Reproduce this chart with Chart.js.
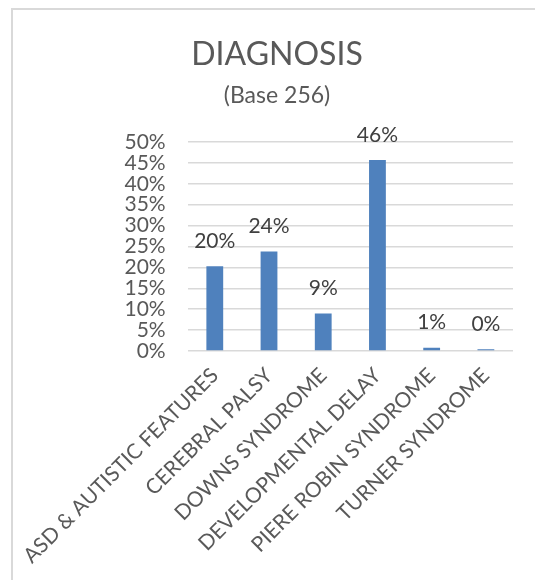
<!DOCTYPE html>
<html>
<head>
<meta charset="utf-8">
<script src="https://cdn.jsdelivr.net/npm/chart.js@4/dist/chart.umd.min.js"></script>
<style>
  html, body { margin: 0; padding: 0; background: #ffffff; overflow: hidden; }
  #frame { position: absolute; left: 11px; top: 8px; width: 600px; height: 640px;
           border-left: 2px solid #D9D9D9; border-top: 2px solid #D9D9D9; }
  #wrap { position: absolute; left: 0; top: 0; width: 535px; height: 580px; }
</style>
</head>
<body>
<div id="frame"></div>
<div id="wrap"><canvas id="c"></canvas></div>
<script>
const categories = [
  "ASD & AUTISTIC FEATURES",
  "CEREBRAL PALSY",
  "DOWNS SYNDROME",
  "DEVELOPMENTAL DELAY",
  "PIERE ROBIN SYNDROME",
  "TURNER SYNDROME"
];
const percentValues = [20.3, 23.8, 9.0, 45.7, 0.8, 0.4];
const chartTitle = "DIAGNOSIS";
const chartSubtitle = "(Base 256)";

const FONT = "Lato, 'Open Sans', sans-serif";

const dataLabels = {
  id: 'dataLabels',
  afterDatasetsDraw(chart) {
    const ctx = chart.ctx;
    const meta = chart.getDatasetMeta(0);
    ctx.save();
    ctx.font = "21px " + FONT;
    ctx.fillStyle = "#404040";
    ctx.textAlign = "center";
    ctx.textBaseline = "middle";
    meta.data.forEach((bar, i) => {
      const v = chart.data.datasets[0].data[i];
      ctx.fillText(Math.round(v) + "%", bar.x, bar.y - 25);
    });
    ctx.restore();
  }
};

new Chart(document.getElementById('c'), {
  type: 'bar',
  data: {
    labels: categories,
    datasets: [{
      data: percentValues,
      backgroundColor: '#4F81BD',
      borderColor: '#4F81BD',
      borderWidth: 0,
      categoryPercentage: 1.0,
      barPercentage: 0.31
    }]
  },
  options: {
    responsive: true,
    maintainAspectRatio: false,
    animation: false,
    layout: { padding: { top: 0, right: 22, bottom: 0, left: 41 } },
    plugins: {
      legend: { display: false },
      tooltip: { enabled: false },
      title: {
        display: true,
        text: chartTitle,
        color: '#595959',
        font: { family: FONT, size: 32, weight: 'normal', lineHeight: 1.2 },
        padding: { top: 35.5, bottom: 7.5 }
      },
      subtitle: {
        display: true,
        text: chartSubtitle,
        color: '#595959',
        font: { family: FONT, size: 23, weight: 'normal', lineHeight: 1.2 },
        padding: { top: 0, bottom: 33 }
      }
    },
    scales: {
      x: {
        grid: { display: false, drawTicks: false },
        border: { display: false },
        ticks: {
          autoSkip: false,
          minRotation: 45,
          maxRotation: 45,
          padding: 12,
          color: '#595959',
          font: { family: FONT, size: 21 }
        },
        afterFit(scale) { scale.height = 229; }
      },
      y: {
        min: 0,
        max: 50,
        grid: { color: '#D9D9D9', lineWidth: 1.5, drawTicks: false },
        border: { display: false },
        ticks: {
          stepSize: 5,
          autoSkip: false,
          padding: 22,
          color: '#595959',
          font: { family: FONT, size: 21 },
          callback: (v) => v + '%'
        },
        afterFit(scale) { scale.width = 142; }
      }
    }
  },
  plugins: [dataLabels]
});
</script>
</body>
</html>
